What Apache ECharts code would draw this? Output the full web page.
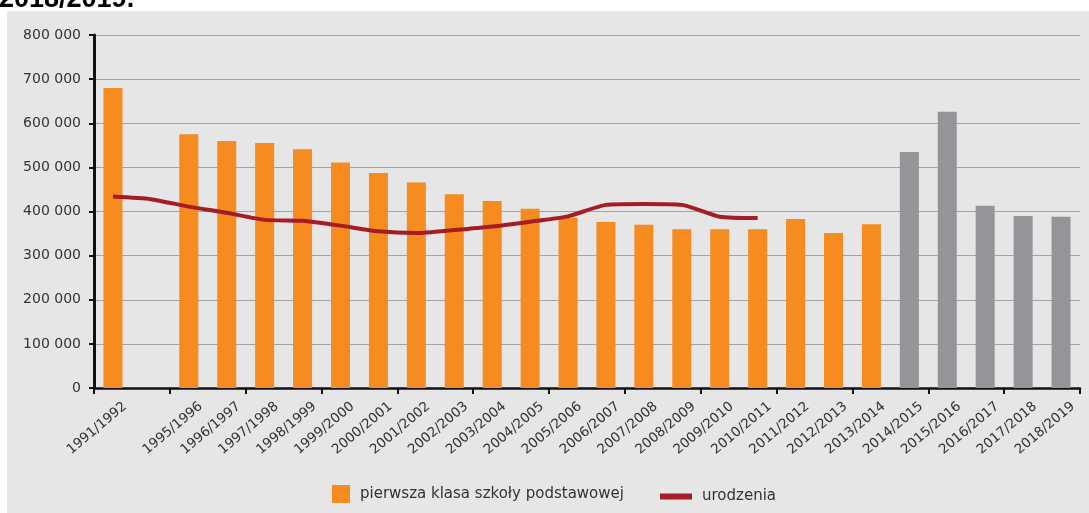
<!DOCTYPE html>
<html><head><meta charset="utf-8">
<script src="https://cdn.jsdelivr.net/npm/echarts@6/dist/echarts.min.js"></script>
<style>html,body{margin:0;padding:0;background:#fff}#c{width:1089px;height:513px}</style>
</head><body><div id="c"></div>
<script>
const categories = ['1991/1992','','1995/1996','1996/1997','1997/1998','1998/1999','1999/2000','2000/2001','2001/2002','2002/2003','2003/2004','2004/2005','2005/2006','2006/2007','2007/2008','2008/2009','2009/2010','2010/2011','2011/2012','2012/2013','2013/2014','2014/2015','2015/2016','2016/2017','2017/2018','2018/2019'];
const firstGrade = [680000,null,575000,560000,555000,541000,511000,487000,466000,439000,424000,406000,386000,376000,370000,360000,360000,360000,383000,351000,371000,null,null,null,null,null];
const projection = [null,null,null,null,null,null,null,null,null,null,null,null,null,null,null,null,null,null,null,null,null,535000,626000,413000,390000,388000];
const births = [434000,428000,411000,397000,381000,379000,368000,355000,351000,358000,366000,377000,389000,415000,417000,415000,388000,385000,null,null,null,null,null,null,null,null];
const seriesNames = ['pierwsza klasa szkoły podstawowej','urodzenia','prognoza'];
const titleText = '2018/2019.';

const labelAxisData = [''].concat(categories);
const FONT = 'DejaVu Sans';
const chart = echarts.init(document.getElementById('c'), null, {renderer:'canvas'});
chart.setOption({
  backgroundColor: '#e6e6e6',
  animation: false,
  graphic: [
    {type:'rect', left:0, top:0, shape:{width:1089, height:11}, style:{fill:'#ffffff'}, silent:true},
    {type:'rect', left:0, top:0, shape:{width:7, height:513}, style:{fill:'#ffffff'}, silent:true},
    {type:'text', x:-1, y:13, style:{text:titleText, font:'bold 27px "Liberation Sans"', fill:'#000', verticalAlign:'bottom'}, silent:true, z:10}
  ],
  grid: {left:94, right:9, top:35, bottom:125, containLabel:false},
  legend: [
    {data:[seriesNames[0]], left:327, top:480, itemWidth:18, itemHeight:18, icon:'rect',
     textStyle:{fontFamily:FONT, fontSize:15, color:'#333', padding:[0,0,0,5]}},
    {data:[{name:seriesNames[1], icon:'rect'}], left:655, top:484, itemWidth:32, itemHeight:6,
     textStyle:{fontFamily:FONT, fontSize:15, color:'#333', padding:[0,0,0,5]}}
  ],
  xAxis: [
    {type:'category', data:categories, gridIndex:0,
     axisLine:{show:true, lineStyle:{color:'#111', width:2.5}},
     axisTick:{show:true, length:6, lineStyle:{color:'#111', width:2}},
     axisLabel:{show:false}, splitLine:{show:false}},
    {type:'category', data:labelAxisData, gridIndex:0, position:'bottom', boundaryGap:false,
     axisLine:{show:false}, axisTick:{show:false}, splitLine:{show:false},
     axisLabel:{show:true, interval:0, rotate:40, margin:11, padding:[0,9,0,0], fontFamily:FONT, fontSize:13.5, color:'#333'}}
  ],
  yAxis: {type:'value', min:0, max:800000, interval:100000,
    axisLine:{show:true, lineStyle:{color:'#111', width:3}},
    axisTick:{show:true, length:5, lineStyle:{color:'#111', width:2}},
    splitLine:{show:true, lineStyle:{color:'#a3a3a3', width:1.2}},
    axisLabel:{margin:13, fontFamily:FONT, fontSize:14, color:'#333',
      formatter: v => v === 0 ? '0' : (v/1000) + ' 000'}},
  series: [
    {name:seriesNames[0], type:'bar', data:firstGrade, stack:'s', barWidth:19, itemStyle:{color:'#f68b1f'}, xAxisIndex:0},
    {name:seriesNames[2], type:'bar', data:projection, stack:'s', barWidth:19, itemStyle:{color:'#939598'}, xAxisIndex:0},
    {name:seriesNames[1], type:'line', data:births, xAxisIndex:0, smooth:0.2, symbol:'none', showSymbol:false,
     lineStyle:{color:'#a51c24', width:4}, itemStyle:{color:'#a51c24'}, z:5}
  ]
});
</script></body></html>
